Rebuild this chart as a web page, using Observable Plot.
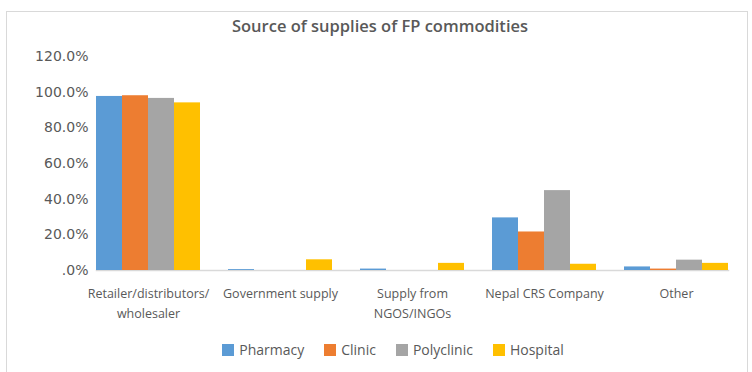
<!DOCTYPE html>
<html>
<head>
<meta charset="utf-8">
<script src="https://cdn.jsdelivr.net/npm/d3@7"></script>
<script src="https://cdn.jsdelivr.net/npm/@observablehq/plot@0.6"></script>
<style>
  html, body { margin: 0; padding: 0; background: #fff; }
  body { width: 752px; height: 372px; overflow: hidden; position: relative; font-family: "Open Sans", "Noto Sans", sans-serif; }
  #frame { position: absolute; left: 6px; top: 11px; width: 742px; height: 370px; border: 1px solid #d9d9d9; box-sizing: border-box; }
  #title { position: absolute; left: 0; width: 760px; top: 14px; text-align: center; font-size: 16.5px; font-weight: 600; color: #595959; }
  #chart { position: absolute; left: 0; top: 0; }
  #legend { position: absolute; left: 0; width: 786px; top: 340px; display: flex; justify-content: center; gap: 20px; font-size: 14px; color: #595959; }
  #legend span.item { display: flex; align-items: center; }
  #legend span.sw { display: inline-block; width: 12px; height: 12px; margin-right: 5px; }
</style>
</head>
<body>
<div id="frame"></div>
<div id="chart"></div>
<div id="title">Source of supplies of FP commodities</div>
<div id="legend"></div>
<script>
const categories = ["Retailer/distributors/ wholesaler", "Government supply", "Supply from NGOS/INGOs", "Nepal CRS Company", "Other"];
const categoryLabels = ["Retailer/distributors/\nwholesaler", "Government supply", "Supply from\nNGOS/INGOs", "Nepal CRS Company", "Other"];
const series = ["Pharmacy", "Clinic", "Polyclinic", "Hospital"];
const colors = ["#5B9BD5", "#ED7D31", "#A5A5A5", "#FFC000"];
const pharmacy   = [97.6, 0.5, 0.8, 29.5, 2.0];
const clinic     = [98.0, 0.0, 0.0, 21.6, 0.8];
const polyclinic = [96.5, 0.0, 0.0, 44.8, 5.8];
const hospital   = [94.0, 6.0, 4.0, 3.5, 4.0];
const yTicks = [0, 20, 40, 60, 80, 100, 120];

const valuesBySeries = [pharmacy, clinic, polyclinic, hospital];
const data = [];
categories.forEach((c, i) => {
  series.forEach((s, j) => {
    data.push({category: c, series: s, value: valuesBySeries[j][i]});
  });
});
const labelOf = new Map(categories.map((c, i) => [c, categoryLabels[i]]));

const chart = Plot.plot({
  width: 752,
  height: 332,
  marginLeft: 82,
  marginRight: 9,
  marginTop: 56,
  marginBottom: 62,
  style: {fontFamily: "'Open Sans', 'Noto Sans', sans-serif", fontSize: "12px", color: "#595959", background: "transparent"},
  fx: {domain: categories, paddingInner: 0.21, paddingOuter: 0.105, label: null},
  x: {domain: series, padding: 0, axis: null},
  y: {domain: [0, 120], label: null},
  color: {domain: series, range: colors},
  marks: [
    Plot.frame({anchor: "bottom", stroke: "#d9d9d9", strokeWidth: 1.5, facet: "super"}),
    Plot.barY(data, {fx: "category", x: "series", y: "value", fill: "series", inset: 0}),
    Plot.axisFx({anchor: "bottom", tickSize: 0, tickPadding: 14, lineHeight: 1.55, fontSize: 12.5, label: null,
                 tickFormat: d => labelOf.get(d)}),
    Plot.axisY({ticks: yTicks, tickSize: 0, tickPadding: 8, fontSize: 14, fontFamily: "DejaVu Sans", label: null,
                tickFormat: d => d === 0 ? ".0%" : d.toFixed(1) + "%"})
  ]
});
document.getElementById("chart").appendChild(chart);

const legend = document.getElementById("legend");
series.forEach((s, j) => {
  const item = document.createElement("span");
  item.className = "item";
  const sw = document.createElement("span");
  sw.className = "sw";
  sw.style.background = colors[j];
  item.appendChild(sw);
  item.appendChild(document.createTextNode(s));
  legend.appendChild(item);
});
</script>
</body>
</html>
